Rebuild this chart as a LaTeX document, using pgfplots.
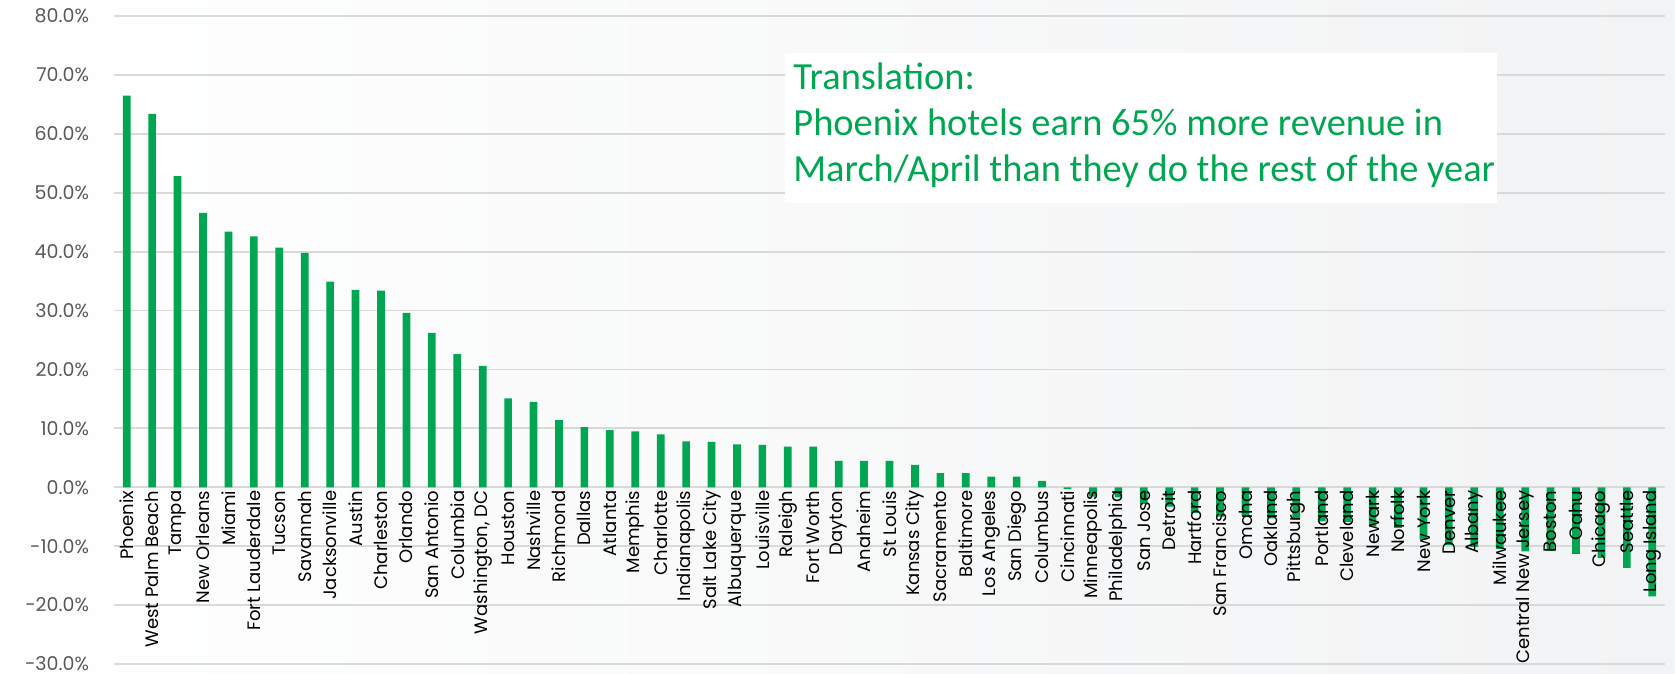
\documentclass[border=0pt]{standalone}
\usepackage{pgfplots}
\pgfplotsset{compat=1.18}
\usepackage{pgfplotstable}
\usepackage{fontspec}
\setmainfont{Poppins}
\newfontfamily\carlito{Carlito}
\definecolor{bargreen}{HTML}{00A651}
\definecolor{tickgray}{HTML}{595959}
\definecolor{gridgray}{HTML}{D9D9D9}
\definecolor{bgright}{HTML}{F2F3F4}

\pgfplotstableread{
x y
0 66.5
1 63.4
2 52.8
3 46.6
4 43.4
5 42.6
6 40.7
7 39.8
8 34.9
9 33.5
10 33.4
11 29.6
12 26.2
13 22.6
14 20.6
15 15.1
16 14.5
17 11.4
18 10.2
19 9.7
20 9.5
21 9.0
22 7.8
23 7.7
24 7.3
25 7.2
26 6.9
27 6.9
28 4.5
29 4.5
30 4.5
31 3.8
32 2.4
33 2.4
34 1.8
35 1.8
36 1.1
37 -0.3
38 -1.6
39 -1.7
40 -2.8
41 -3.3
42 -4.4
43 -5.0
44 -4.8
45 -5.3
46 -5.5
47 -5.8
48 -5.9
49 -6.7
50 -6.9
51 -8.9
52 -9.8
53 -10.1
54 -10.5
55 -10.9
56 -10.8
57 -11.3
58 -12.0
59 -13.7
60 -18.5
}\datatable

\pgfplotsset{common/.style={
  at={(63.36pt,93.36pt)}, anchor=origin,
  scale only axis, width=775.5pt, height=324pt,
  xmin=-0.5, xmax=60.5, ymin=-30, ymax=80,
  axis x line=middle, axis y line=left,
  axis line style={draw=none},
  major tick length=0pt,
}}

\begin{document}
\begin{tikzpicture}
\shade[left color=white, right color=bgright] (0,0) rectangle (837.5pt,337pt);
\useasboundingbox (0,0) rectangle (837.5pt,337pt);
% bars and grid
\begin{axis}[
  common,
  ytick={-30,-20,...,80},
  ymajorgrids, grid style={gridgray, line width=0.9pt},
  /pgf/number format/assume math mode=true,
  yticklabel={\pgfmathprintnumber[fixed,fixed zerofill,precision=1]{\tick}\%},
  yticklabel style={font=\fontsize{9.5}{11}\selectfont, text=tickgray, xshift=-9pt},
  xtick=\empty,
  ybar, bar width=3.85pt,
]
\addplot[fill=bargreen, draw=none] table[x=x,y=y]{\datatable};
\end{axis}
% category labels drawn above the bars
\begin{axis}[
  common,
  ytick=\empty,
  xtick={0,1,...,60},
  xticklabels={Phoenix,West Palm Beach,Tampa,New Orleans,Miami,Fort Lauderdale,Tucson,Savannah,Jacksonville,Austin,Charleston,Orlando,San Antonio,Columbia,{Washington, DC},Houston,Nashville,Richmond,Dallas,Atlanta,Memphis,Charlotte,Indianapolis,Salt Lake City,Albuquerque,Louisville,Raleigh,Fort Worth,Dayton,Anaheim,St Louis,Kansas City,Sacramento,Baltimore,Los Angeles,San Diego,Columbus,Cincinnati,Minneapolis,Philadelphia,San Jose,Detroit,Hartford,San Francisco,Omaha,Oakland,Pittsburgh,Portland,Cleveland,Newark,Norfolk,New York,Denver,Albany,Milwaukee,Central New Jersey,Boston,Oahu,Chicago,Seattle,Long Island},
  xticklabel style={rotate=90, anchor=east, font=\fontsize{9}{10}\selectfont, text=black, inner sep=1.5pt},
]
\end{axis}
\fill[white] (392.5pt,235.5pt) rectangle (748.5pt,310.5pt);
\node[anchor=base west, inner sep=0, text=bargreen, font=\carlito\fontsize{19.2}{23}\selectfont] at (396.5pt,292pt) {Translation:};
\node[anchor=base west, inner sep=0, text=bargreen, font=\carlito\fontsize{19.2}{23}\selectfont] at (396.5pt,269pt) {Phoenix hotels earn 65\% more revenue in};
\node[anchor=base west, inner sep=0, text=bargreen, font=\carlito\fontsize{19.2}{23}\selectfont] at (396.5pt,246pt) {March/April than they do the rest of the year};
\end{tikzpicture}
\end{document}
